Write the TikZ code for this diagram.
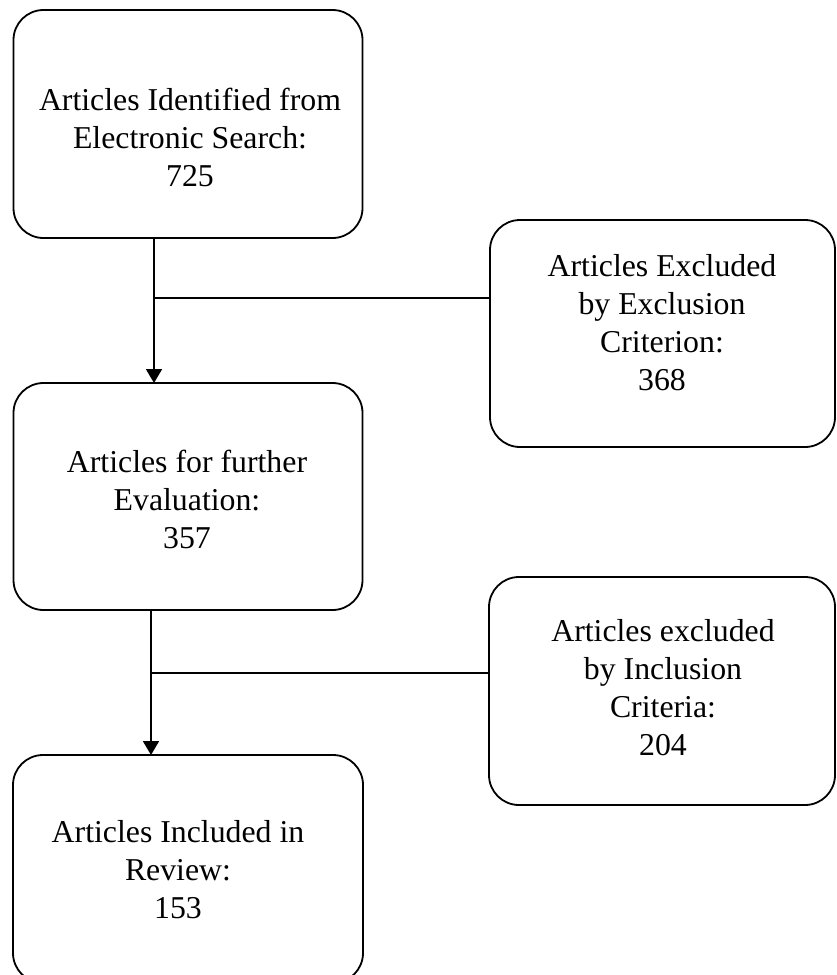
\documentclass[tikz,border=0pt]{standalone}
\usepackage{fontspec}
\setmainfont{Liberation Serif}
\usetikzlibrary{arrows.meta}
\begin{document}
\begin{tikzpicture}[x=1pt,y=-1pt,
  boxnode/.style={draw, line width=1.8pt, rounded corners=30pt, inner sep=0pt, outer sep=0pt},
  txt/.style={align=center, inner sep=0pt, font=\fontsize{31.8}{38}\selectfont},
  conn/.style={line width=1.8pt},
  arr/.style={conn, -{Triangle[width=16pt,length=14pt]}}]
\useasboundingbox (0,0) rectangle (836,975);
\clip (0,0) rectangle (836,975);
\fill[white] (0,0) rectangle (836,975);
% boxes
\node[boxnode, minimum width=349pt, minimum height=228pt] (b1) at (188,124) {};
\node[boxnode, minimum width=345pt, minimum height=227pt] (b2) at (662.5,333.5) {};
\node[boxnode, minimum width=349pt, minimum height=227pt] (b3) at (188,496.5) {};
\node[boxnode, minimum width=346pt, minimum height=228pt] (b4) at (662,691) {};
\node[boxnode, minimum width=350pt, minimum height=228pt] (b5) at (188,869) {};
% texts
\node[txt] (t1) at (190,137) {Articles Identified from\\Electronic Search:\\725};
\node[txt] (t2) at (662,323) {Articles Excluded\\by Exclusion\\Criterion:\\368};
\node[txt] (t3) at (187,499) {Articles for further\\Evaluation:\\357};
\node[txt] (t4) at (663,688) {Articles excluded\\by Inclusion\\Criteria:\\204};
\node[txt] (t5) at (178,870) {Articles Included in\\Review:\\153};
% connectors
\coordinate (j1) at (154,298);
\coordinate (j2) at (151,673);
\draw[arr] (j1 |- b1.south) -- (j1 |- b3.north);
\draw[conn] (j1) -- (j1 -| b2.west);
\draw[arr] (j2 |- b3.south) -- (j2 |- b5.north);
\draw[conn] (j2) -- (j2 -| b4.west);
\end{tikzpicture}
\end{document}
